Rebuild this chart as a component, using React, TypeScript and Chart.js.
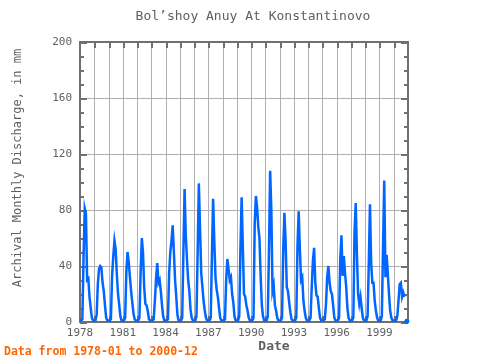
import React, { useEffect, useRef } from "react";
import { Chart, registerables } from "chart.js";

Chart.register(...registerables);

const startYear = 1978;
const years: number[] = [1978,1979,1980,1981,1982,1983,1984,1985,1986,1987,1988,1989,1990,1991,1992,1993,1994,1995,1996,1997,1998,1999,2000];
const discharge: (number | null)[][] = [
  [1,1,2,47,81,77,30,31,18,10,3,1],
  [1,1,5,27,38,40,39,28,22,12,3,1],
  [1,1,2,33,47,58,52,34,20,12,4,1],
  [1,1,3,36,50,43,32,22,14,6,2,1],
  [1,1,3,35,60,50,25,13,12,8,2,1],
  [1,1,2,15,31,42,28,30,22,12,4,1],
  [1,1,2,35,50,58,69,50,30,18,5,1],
  [1,1,3,50,95,62,45,30,22,9,3,1],
  [1,1,4,50,99,67,35,25,15,8,3,1],
  [1,1,3,47,88,58,32,23,18,10,3,1],
  [1,1,2,30,45,38,30,32,20,14,4,1],
  [1,1,4,52,89,54,20,18,12,8,3,1],
  [1,1,3,70,90,82,68,60,33,12,4,1],
  [1,1,4,50,108,80,22,26,12,8,3,1],
  [1,1,3,51,78,58,25,22,14,7,2,1],
  [1,1,3,54,79,52,30,32,15,8,3,1],
  [1,1,3,25,44,53,28,19,18,10,3,1],
  [1,1,2,13,32,40,28,22,20,12,3,1],
  [1,1,3,45,62,33,47,35,25,10,3,1],
  [1,1,3,64,85,49,20,13,18,10,3,1],
  [1,1,4,42,84,42,28,28,15,8,3,1],
  [1,1,4,54,101,32,48,35,20,8,3,1],
  [1,1,1,4,15,27,28,18,21,18,null,0.5],
];
const yTicks: number[] = [0, 40, 80, 120, 160, 200];
const xLabelYears: number[] = [1978, 1981, 1984, 1987, 1990, 1993, 1996, 1999];

const titleText = "Bol\u2019shoy Anuy At Konstantinovo";
const yTitle = "Archival Monthly Discharge, in mm";
const xTitle = "Date";
const footer = "Data from 1978-01 to 2000-12";

const FONT = "'DejaVu Sans Mono', monospace";
const GREY = "#606060";
const FRAME = "#707070";
const GRID = "#b0b0b0";

export default function App() {
  const ref = useRef<HTMLCanvasElement>(null);
  useEffect(() => {
    const points: { x: number; y: number | null }[] = [];
    years.forEach((yr, i) => {
      discharge[i].forEach((v, m) => points.push({ x: yr + m / 12, y: v }));
    });
    const n = points.length;

    const deco = {
      id: "deco",
      beforeDatasetsDraw(chart: any) {
        const { ctx, chartArea: a, scales } = chart;
        const x = scales.x, y = scales.y;
        ctx.save();
        ctx.fillStyle = GRID;
        for (let yr = startYear + 1; yr <= 2000; yr++) {
          const px = Math.round(x.getPixelForValue(yr));
          ctx.fillRect(px, a.top, 1, a.bottom - a.top);
        }
        for (let i = 1; i < yTicks.length - 1; i++) {
          const py = Math.round(y.getPixelForValue(yTicks[i]));
          ctx.fillRect(a.left, py, a.right - a.left, 1);
        }
        ctx.strokeStyle = FRAME;
        ctx.lineWidth = 2;
        ctx.strokeRect(a.left, a.top, a.right - a.left, a.bottom - a.top);
        ctx.fillStyle = FRAME;
        for (let v = 0; v <= 200; v += 10) {
          const py = Math.round(y.getPixelForValue(v));
          const len = v % 40 === 0 ? 7 : 4;
          ctx.fillRect(a.left, py, len, 2);
          ctx.fillRect(a.right - len, py, len, 2);
        }
        for (let yr = startYear + 1; yr <= 2000; yr++) {
          const px = Math.round(x.getPixelForValue(yr));
          ctx.fillRect(px, a.top, 2, 6);
          ctx.fillRect(px, a.bottom - 6, 2, 6);
        }
        ctx.restore();
      },
      afterDraw(chart: any) {
        const { ctx } = chart;
        ctx.save();
        ctx.fillStyle = GREY;
        ctx.textAlign = "center";
        ctx.textBaseline = "middle";
        ctx.font = `13px ${FONT}`;
        ctx.fillText(titleText, 253, 17);
        ctx.font = `bold 13px ${FONT}`;
        ctx.fillText(xTitle, 274, 347);
        ctx.save();
        ctx.translate(18, 168);
        ctx.rotate(-Math.PI / 2);
        ctx.font = `12px ${FONT}`;
        ctx.fillText(yTitle, 0, 0);
        ctx.restore();
        ctx.textAlign = "left";
        ctx.fillStyle = "#ff6600";
        ctx.font = `bold 11.5px ${FONT}`;
        ctx.fillText(footer, 4, 352);
        ctx.restore();
      },
    };

    const chart = new Chart(ref.current as HTMLCanvasElement, {
      type: "line",
      data: {
        datasets: [
          {
            data: points as any,
            borderColor: "#0066ff",
            backgroundColor: "#0066ff",
            borderWidth: 2.5,
            pointRadius: (c: any) => (c.dataIndex === n - 1 ? 2.5 : 0),
            pointBorderWidth: 0,
            spanGaps: false,
            tension: 0,
            clip: false as any,
          },
        ],
      },
      options: {
        responsive: false,
        animation: false,
        layout: { padding: { left: 0, right: 72, top: 42, bottom: 0 } },
        plugins: { legend: { display: false }, title: { display: false }, tooltip: { enabled: false } },
        scales: {
          x: {
            type: "linear",
            min: 1978,
            max: 2001,
            afterFit: (s: any) => { s.height = 38; },
            afterBuildTicks: (s: any) => {
              const t = [];
              for (let yr = 1978; yr <= 2001; yr++) t.push({ value: yr });
              s.ticks = t;
            },
            grid: { display: false, drawTicks: false, tickLength: 0 },
            border: { display: false },
            ticks: {
              padding: 5,
              maxRotation: 0,
              autoSkip: false,
              color: GREY,
              font: { family: FONT, size: 11 },
              callback: (v: any) => (xLabelYears.includes(Number(v)) ? String(v) : ""),
            },
          },
          y: {
            min: 0,
            max: 200,
            afterFit: (s: any) => { s.width = 80; },
            afterBuildTicks: (s: any) => { s.ticks = yTicks.map((v) => ({ value: v })); },
            grid: { display: false, drawTicks: false, tickLength: 0 },
            border: { display: false },
            ticks: {
              padding: 8,
              color: GREY,
              font: { family: FONT, size: 11 },
            },
          },
        },
      },
      plugins: [deco],
    });
    return () => chart.destroy();
  }, []);
  return (
    <div style={{ position: "fixed", left: 0, top: 0, width: 480, height: 360, background: "#fff" }}>
      <canvas ref={ref} width={480} height={360} />
    </div>
  );
}
